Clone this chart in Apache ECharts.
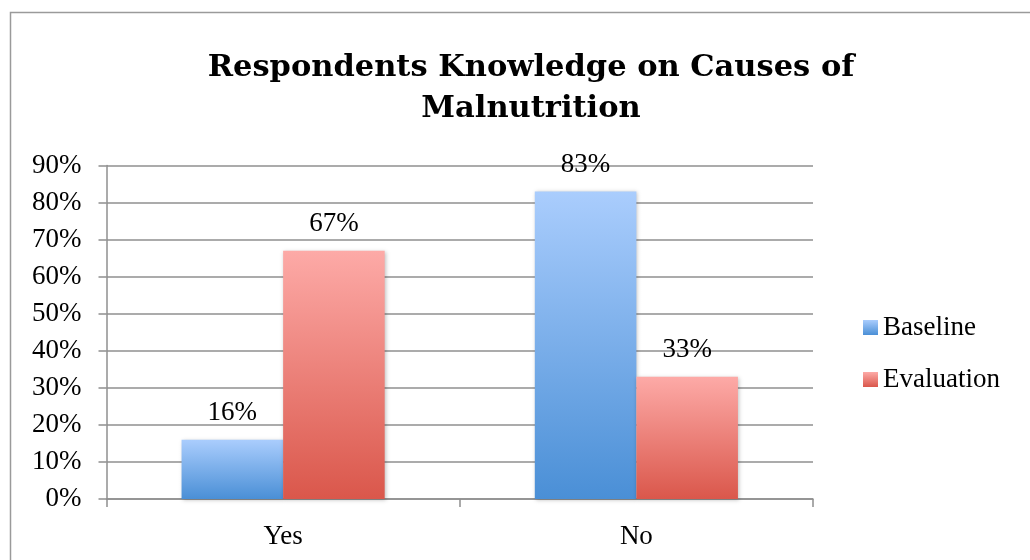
<!DOCTYPE html>
<html>
<head>
<meta charset="utf-8">
<script src="https://cdn.jsdelivr.net/npm/echarts@6/dist/echarts.min.js"></script>
<style>
  html, body { margin: 0; padding: 0; background: #ffffff; }
  #chart { width: 1030px; height: 560px; }
</style>
</head>
<body>
<div id="chart"></div>
<script>
// Survey answers and the share of respondents in each round
const categories = ['Yes', 'No'];
const baseline = [16, 83];
const evaluation = [67, 33];
const seriesNames = ['Baseline', 'Evaluation'];
const yTicks = [0, 10, 20, 30, 40, 50, 60, 70, 80, 90];

const serif = '"Liberation Serif", "Times New Roman", serif';
const gridGray = '#8f8f8f';

function vGrad(top, bottom) {
  return new echarts.graphic.LinearGradient(0, 0, 0, 1, [
    { offset: 0, color: top },
    { offset: 1, color: bottom }
  ]);
}

const labelStyle = {
  show: true,
  position: 'top',
  distance: 13,
  formatter: p => p.value + '%',
  fontFamily: serif,
  fontSize: 27,
  color: '#000'
};

const chart = echarts.init(document.getElementById('chart'), null, { renderer: 'canvas' });

chart.setOption({
  backgroundColor: '#ffffff',
  animation: false,
  graphic: [{
    type: 'rect',
    shape: { x: 10.5, y: 12.5, width: 1030, height: 560 },
    style: { fill: 'none', stroke: '#9a9a9a', lineWidth: 1.5 },
    silent: true,
    z: -1
  }],
  title: {
    text: 'Respondents Knowledge on Causes of\nMalnutrition',
    left: 526,
    textAlign: 'center',
    top: 43,
    textStyle: {
      fontFamily: '"DejaVu Serif", serif',
      fontWeight: 'bold',
      fontSize: 30.5,
      lineHeight: 41,
      color: '#000'
    }
  },
  legend: {
    orient: 'vertical',
    left: 863,
    top: 314,
    padding: 0,
    itemWidth: 15,
    itemHeight: 15,
    itemGap: 25,
    itemTextGap: 6,
    icon: 'rect',
    data: seriesNames,
    textStyle: { fontFamily: serif, fontSize: 27, lineHeight: 27, color: '#000' }
  },
  grid: { left: 106.5, right: 217, top: 165.5, bottom: 61, containLabel: false },
  xAxis: {
    type: 'category',
    data: categories,
    axisLine: { show: true, lineStyle: { color: gridGray, width: 1.5 } },
    axisTick: { show: true, length: 8, lineStyle: { color: gridGray, width: 1.5 } },
    axisLabel: { fontFamily: serif, fontSize: 27, color: '#000', margin: 24 }
  },
  yAxis: {
    type: 'value',
    min: 0,
    max: 90,
    interval: 10,
    axisLine: { show: true, lineStyle: { color: gridGray, width: 1.5 } },
    axisTick: { show: true, length: 8, lineStyle: { color: gridGray, width: 1.5 } },
    splitLine: { show: true, lineStyle: { color: gridGray, width: 1.5 } },
    axisLabel: {
      fontFamily: serif,
      fontSize: 27,
      color: '#000',
      margin: 25,
      formatter: v => (yTicks.indexOf(v) >= 0 ? v + '%' : '')
    }
  },
  series: [
    {
      name: seriesNames[0],
      type: 'bar',
      data: baseline,
      barGap: '0%',
      barCategoryGap: '42.5%',
      itemStyle: {
        color: vGrad('#aacdfd', '#4a8fd6'),
        shadowColor: 'rgba(0,0,0,0.25)',
        shadowBlur: 4,
        shadowOffsetX: 1,
        shadowOffsetY: 1
      },
      label: labelStyle
    },
    {
      name: seriesNames[1],
      type: 'bar',
      data: evaluation,
      barGap: '0%',
      barCategoryGap: '42.5%',
      itemStyle: {
        color: vGrad('#fdaaa7', '#da574b'),
        shadowColor: 'rgba(0,0,0,0.25)',
        shadowBlur: 4,
        shadowOffsetX: 1,
        shadowOffsetY: 1
      },
      label: labelStyle
    }
  ]
});
</script>
</body>
</html>
